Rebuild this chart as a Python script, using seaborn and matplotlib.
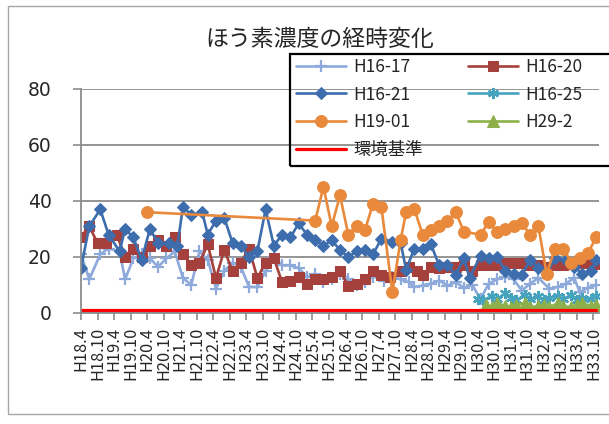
import matplotlib
matplotlib.use("Agg")
import matplotlib.pyplot as plt
from matplotlib.patches import Rectangle
import seaborn as sns

# Sampling months are counted from April of H18 (H18.4 = 0).
h16_17_months = [0, 3, 7, 10, 14, 16, 19, 22, 25, 28, 31, 34, 37, 40, 43, 46, 49, 52, 55, 58,
                 61, 64, 67, 70, 73, 76, 79, 82, 85, 88, 91, 94, 97, 100, 103, 106, 110, 113, 116, 119,
                 121, 124, 127, 130, 133, 136, 139, 142, 145, 148, 151, 154, 157, 160, 163, 166, 170, 173, 176, 179,
                 181, 184, 187]
h16_17_values = [21, 12, 21, 23, 22, 12, 19.5, 21, 19.5, 16.5, 19.5, 22, 12.5, 10, 22, 19, 8.7, 15, 18, 16.5,
                 9.3, 9.3, 15, 20, 17, 17, 16, 13, 14, 11, 12, 14, 12.3, 10, 11, 13, 11.6, 13, 12, 11,
                 9.3, 9.8, 10.5, 11.6, 9.8, 11, 9, 10, 5, 10.5, 12, 13, 12, 8, 10.5, 12.5, 8.7, 9.3, 10.5, 12.5,
                 7.5, 9, 10]

h16_20_months = [0, 3, 6, 9, 13, 16, 19, 22, 25, 28, 31, 34, 37, 40, 43, 46, 49, 52, 55, 58,
                 61, 64, 67, 70, 73, 76, 79, 82, 85, 88, 91, 94, 97, 100, 103, 106, 109, 112, 116, 119,
                 122, 124, 127, 130, 133, 136, 139, 142, 145, 148, 151, 154, 157, 160, 163, 166, 169, 172, 175, 178,
                 181, 184, 187]
h16_20_values = [27, 31, 25, 25, 28, 20, 23, 20, 24, 26, 24, 27, 21, 17, 18, 24.5, 12.5, 22.5, 15, 18,
                 23, 12.5, 18, 19.5, 11, 11.5, 12.8, 10.5, 12, 12, 13, 15, 9.8, 10.5, 12, 15, 13.4, 12.8, 15, 16.4,
                 15, 13.5, 16.4, 16, 16.4, 16.4, 17, 15, 17, 17, 17, 18, 18, 18, 17, 17, 16.5, 17, 17, 17.5,
                 18, 18, 17.5]

h16_21_months = [0, 3, 7, 10, 14, 16, 19, 22, 25, 28, 32, 35, 37, 40, 44, 46, 49, 52, 55, 58,
                 61, 64, 67, 70, 73, 76, 79, 82, 85, 88, 91, 94, 97, 100, 103, 106, 109, 113, 116, 118,
                 121, 124, 127, 130, 133, 136, 139, 141, 145, 148, 151, 154, 157, 160, 163, 166, 169, 172, 176, 179,
                 182, 185, 187]
h16_21_values = [16, 31, 37, 28, 22, 30, 27, 19, 30, 25, 25, 24, 38, 35, 36, 28, 33, 34, 25, 24,
                 20, 22, 37, 24, 28, 27, 32, 28, 26, 24, 26, 22.5, 20, 22, 22.5, 21, 26.5, 25.5, 25, 15.5,
                 23, 23, 24.5, 17, 17, 13.5, 19.5, 12.5, 20.5, 19.5, 20, 15, 14, 13.5, 19, 16, 14, 19.5, 19, 16.5,
                 14, 15, 19]

h16_25_months = [144, 146, 149, 151, 154, 156, 158, 161, 163, 166, 168, 170, 173, 175, 178, 180, 182, 185, 187]
h16_25_values = [5, 4.5, 6, 5, 7, 5.5, 4.5, 6.5, 5, 6, 4.5, 5.5, 6, 5, 6.5, 4.5, 5.5, 5, 6]

h19_01_months = [24, 85, 88, 91, 94, 97, 100, 103, 106, 109, 113, 116, 118, 121, 124, 127, 130, 133, 136, 139,
                 145, 148, 151, 154, 157, 160, 163, 166, 169, 172, 175, 178, 181, 184, 187]
h19_01_values = [36, 33, 45, 31, 42, 28, 31, 29.5, 39, 38, 7.5, 26, 36, 37, 28, 29.5, 31, 33, 36, 29,
                 28, 32.5, 29, 30, 31, 32, 28, 31, 14, 23, 23, 18, 19.5, 21.5, 27]

h29_2_months = [147, 149, 151, 154, 156, 158, 161, 163, 166, 168, 170, 173, 175, 178, 180, 182, 185, 187]
h29_2_values = [3, 2, 3.5, 2.5, 2, 3, 3.5, 2, 2.5, 3, 2, 3.5, 2.5, 2, 3, 3.5, 2.5, 3]

# Environmental standard (環境基準)
standard_months = [0, 187]
standard_values = [1, 1]

tick_months = list(range(0, 187, 6))
tick_labels = ["H18.4", "H18.10", "H19.4", "H19.10", "H20.4", "H20.10", "H21.4", "H21.10",
               "H22.4", "H22.10", "H23.4", "H23.10", "H24.4", "H24.10", "H25.4", "H25.10",
               "H26.4", "H26.10", "H27.4", "H27.10", "H28.4", "H28.10", "H29.4", "H29.10",
               "H30.4", "H30.10", "H31.4", "H31.10", "H32.4", "H32.10", "H33.4", "H33.10"]

sns.set_theme(style="white")
plt.rcParams["font.family"] = ["Noto Sans CJK JP", "DejaVu Sans"]

W, H = 609, 424
fig = plt.figure(figsize=(W / 100, H / 100), dpi=100)
ax = fig.add_axes([81 / W, 1 - 313 / H, (599 - 81) / W, (313 - 89) / H])

series = [
    ("H16-17", h16_17_months, h16_17_values, "#8EAADB", dict(marker="+", markersize=9, markeredgewidth=1.6)),
    ("H16-20", h16_20_months, h16_20_values, "#A5403D", dict(marker="s", markersize=7.5)),
    ("H16-21", h16_21_months, h16_21_values, "#3D6DAD", dict(marker="D", markersize=6.5)),
    ("H16-25", h16_25_months, h16_25_values, "#45A3BE", dict(marker=(6, 2, 0), markersize=8, markeredgewidth=1.6)),
    ("H19-01", h19_01_months, h19_01_values, "#E8893B", dict(marker="o", markersize=8.5)),
    ("H29-2", h29_2_months, h29_2_values, "#8DB04A", dict(marker="^", markersize=8)),
]

for name, xs, ys, color, mk in series:
    sns.lineplot(x=xs, y=ys, ax=ax, color=color, linewidth=1.9, label=name, sort=False,
                 markeredgecolor=color, markerfacecolor=color, **mk)

sns.lineplot(x=standard_months, y=standard_values, ax=ax, color="#FF0000", linewidth=2.3,
             label="環境基準", sort=False)

grey = "#8C8C8C"
ax.set_xlim(0, 188)
ax.set_ylim(0, 80)
ax.set_yticks([0, 20, 40, 60, 80])
ax.set_xticks(tick_months)
ax.set_xticklabels(tick_labels, rotation=90, fontsize=11.8)
for lbl in ax.get_yticklabels():
    lbl.set_family("DejaVu Sans")
ax.tick_params(axis="y", labelsize=13.5, length=6, width=1.2, color=grey, pad=15, left=True)
ax.tick_params(axis="x", length=5, width=1.2, color=grey, pad=5, bottom=True)
ax.yaxis.grid(True, color=grey, linewidth=1.3)
ax.set_axisbelow(True)
for side in ("top", "right"):
    ax.spines[side].set_visible(False)
for side in ("left", "bottom"):
    ax.spines[side].set_color(grey)
    ax.spines[side].set_linewidth(1.3)
ax.set_xlabel("")
ax.set_ylabel("")

# Legend laid out row by row in two columns
handles, labels = ax.get_legend_handles_labels()
order = [0, 2, 4, 6, 1, 3, 5]
ax.legend([handles[i] for i in order], [labels[i] for i in order], ncol=2,
          loc="upper left", bbox_to_anchor=(296 / W, 1 - 58 / H), bbox_transform=fig.transFigure,
          frameon=False, fontsize=12.5, handlelength=2.9, handletextpad=0.4, columnspacing=2.6,
          labelspacing=0.55, borderaxespad=0, borderpad=0)

# Legend frame and chart border
fig.patches.append(Rectangle((290 / W, 1 - 166 / H), 330 / W, 112 / H, transform=fig.transFigure,
                             fill=False, edgecolor="black", linewidth=1.6))
fig.patches.append(Rectangle((8 / W, 1 - 414 / H), 620 / W, 408 / H, transform=fig.transFigure,
                             fill=False, edgecolor="#A6A6A6", linewidth=1))

fig.text(320 / W, 1 - 40 / H, "ほう素濃度の経時変化", ha="center", va="center", fontsize=16.5)

fig.savefig("out.png", dpi=100)
